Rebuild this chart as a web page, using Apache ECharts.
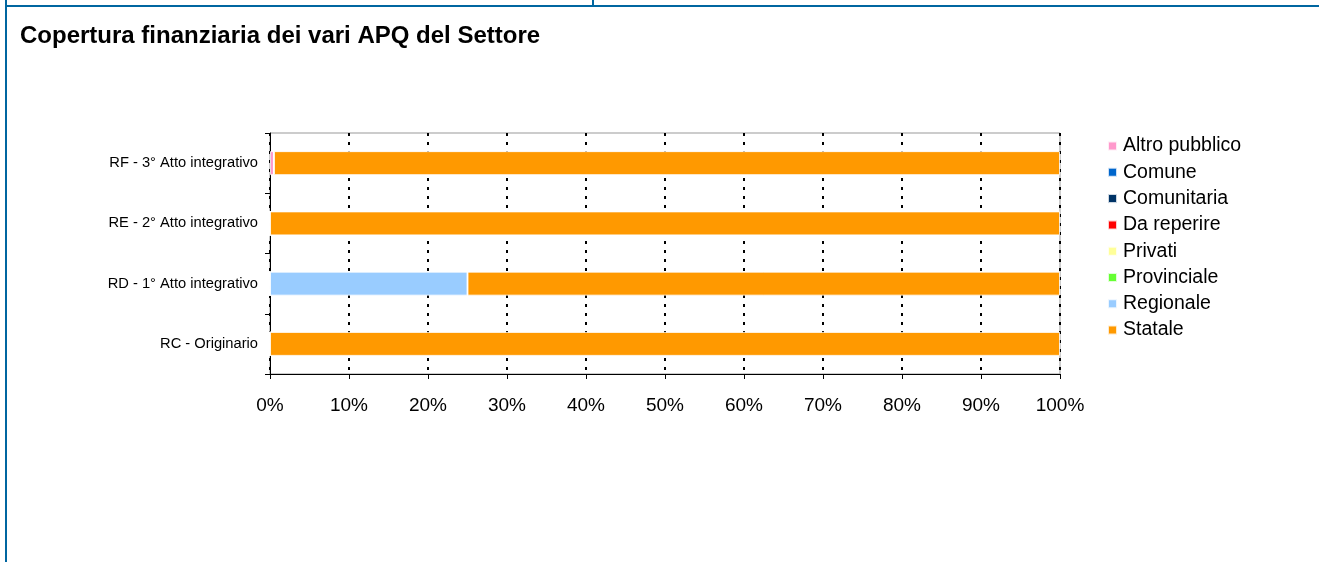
<!DOCTYPE html>
<html>
<head>
<meta charset="utf-8">
<script src="https://cdn.jsdelivr.net/npm/echarts@6/dist/echarts.min.js"></script>
<style>
html,body{margin:0;padding:0;background:#fff;}
#c{width:1319px;height:562px;}
</style>
</head>
<body>
<div id="c"></div>
<script>
const categories = ['RC - Originario', 'RD - 1° Atto integrativo', 'RE - 2° Atto integrativo', 'RF - 3° Atto integrativo'];
const seriesNames = ['Altro pubblico', 'Comune', 'Comunitaria', 'Da reperire', 'Privati', 'Provinciale', 'Regionale', 'Statale'];
const seriesColors = ['#ff99cc', '#0066cc', '#003366', '#ff0000', '#ffff99', '#66ff33', '#99ccff', '#ff9900'];
const altroPubblico = [0, 0, 0, 0.5];
const comune = [0, 0, 0, 0];
const comunitaria = [0, 0, 0, 0];
const daReperire = [0, 0, 0, 0];
const privati = [0, 0, 0, 0];
const provinciale = [0, 0, 0, 0];
const regionale = [0, 25, 0, 0];
const statale = [100, 75, 100, 99.5];
const xTicks = [0, 10, 20, 30, 40, 50, 60, 70, 80, 90, 100];

const values = [altroPubblico, comune, comunitaria, daReperire, privati, provinciale, regionale, statale];
const chart = echarts.init(document.getElementById('c'));
const font = 'Liberation Sans, Arial, sans-serif';
chart.setOption({
  animation: false,
  textStyle: { fontFamily: font },
  title: {
    text: 'Copertura finanziaria dei vari APQ del Settore',
    left: 15, top: 19,
    textStyle: { fontFamily: font, fontSize: 24, fontWeight: 'bold', color: '#000' }
  },
  graphic: [
    { type: 'rect', shape: { x: 5, y: 5, width: 1314, height: 2 }, style: { fill: '#0066a0' }, silent: true },
    { type: 'rect', shape: { x: 5, y: 0, width: 2, height: 562 }, style: { fill: '#0066a0' }, silent: true },
    { type: 'rect', shape: { x: 592, y: 0, width: 2, height: 6 }, style: { fill: '#0066a0' }, silent: true }
  ],
  legend: {
    orient: 'vertical',
    left: 1107, top: 136,
    padding: 0,
    itemWidth: 9, itemHeight: 9,
    itemGap: 6.3,
    icon: 'rect',
    data: seriesNames,
    textStyle: { fontFamily: font, fontSize: 19.5, color: '#000', padding: [0, 0, 0, 1] }
  },
  grid: {
    left: 270, right: 259, top: 133, bottom: 188,
    show: true, borderColor: '#999', borderWidth: 1, backgroundColor: 'transparent'
  },
  xAxis: {
    type: 'value', min: 0, max: 100, interval: 10,
    axisLine: { show: true, lineStyle: { color: '#000', width: 1 } },
    axisTick: { show: true, length: 5, lineStyle: { color: '#000' } },
    axisLabel: { formatter: v => xTicks.includes(v) ? v + '%' : '', fontSize: 19, color: '#000', margin: 22, fontFamily: font },
    splitLine: { show: true, lineStyle: { color: '#000', width: 2, type: [3, 6] } }
  },
  yAxis: {
    type: 'category', data: categories,
    axisLine: { show: true, lineStyle: { color: '#000', width: 1 } },
    axisTick: { show: true, length: 5, inside: false, lineStyle: { color: '#000' } },
    axisLabel: { fontSize: 14.7, color: '#000', margin: 12, fontFamily: font }
  },
  series: seriesNames.map((n, i) => ({
    name: n, type: 'bar', stack: 'total',
    data: values[i],
    barWidth: 24,
    itemStyle: { color: seriesColors[i], borderColor: 'rgba(255,255,255,0.8)', borderWidth: 1 }
  }))
});
</script>
</body>
</html>
